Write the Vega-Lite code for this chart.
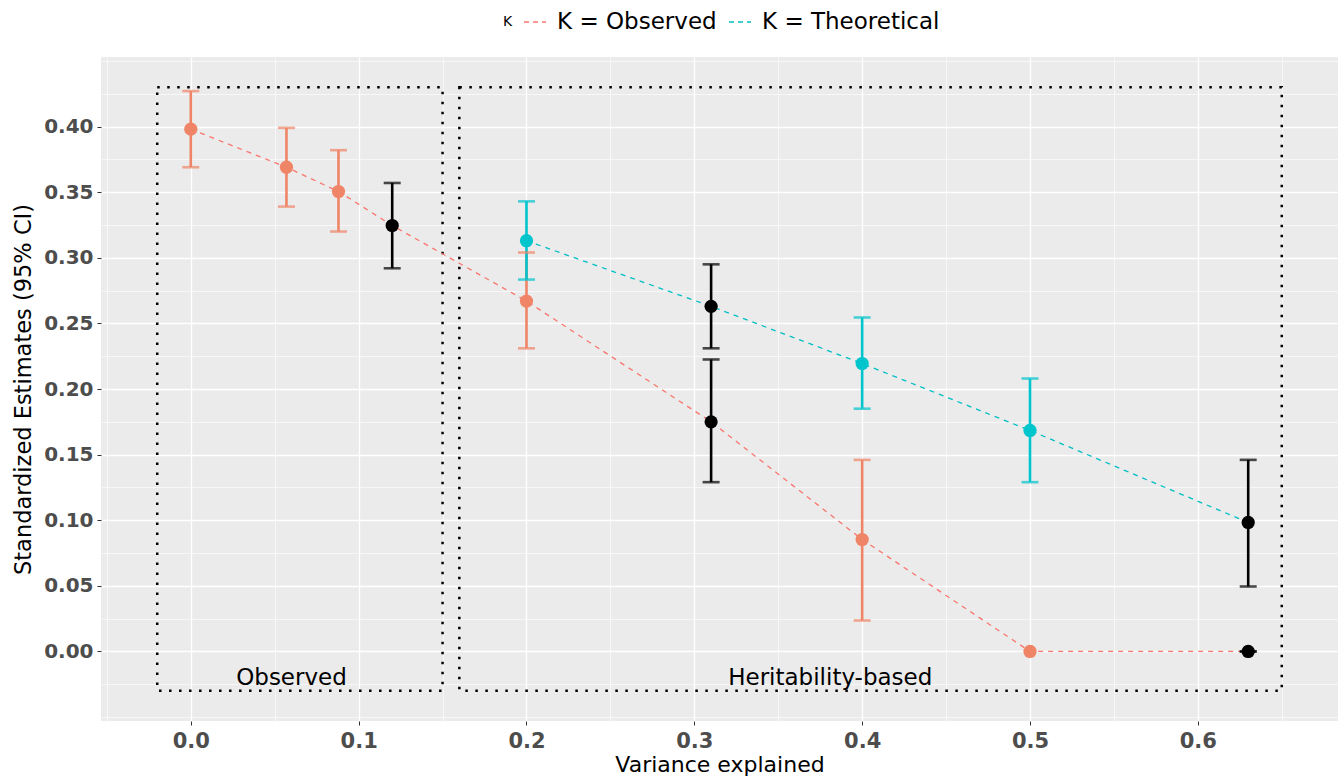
{
  "$schema": "https://vega.github.io/schema/vega-lite/v6.json",
  "autosize": {"type": "none"},
  "padding": {"left": 101, "top": 57, "right": 2, "bottom": 57},
  "width": 1237,
  "height": 664,
  "background": "white",
  "datasets": {
    "est": [
      {"x": 0.0, "est": 0.398, "lo": 0.369, "hi": 0.427, "K": "K = Observed", "pt": "Observed"},
      {"x": 0.057, "est": 0.369, "lo": 0.339, "hi": 0.399, "K": "K = Observed", "pt": "Observed"},
      {"x": 0.088, "est": 0.3505, "lo": 0.32, "hi": 0.382, "K": "K = Observed", "pt": "Observed"},
      {"x": 0.12, "est": 0.3246, "lo": 0.292, "hi": 0.357, "K": "K = Observed", "pt": "Selected"},
      {"x": 0.2, "est": 0.267, "lo": 0.231, "hi": 0.304, "K": "K = Observed", "pt": "Observed"},
      {"x": 0.2, "est": 0.313, "lo": 0.2834, "hi": 0.343, "K": "K = Theoretical", "pt": "Theoretical"},
      {"x": 0.31, "est": 0.263, "lo": 0.231, "hi": 0.295, "K": "K = Theoretical", "pt": "Selected"},
      {"x": 0.31, "est": 0.175, "lo": 0.129, "hi": 0.2225, "K": "K = Observed", "pt": "Selected"},
      {"x": 0.4, "est": 0.2194, "lo": 0.185, "hi": 0.2545, "K": "K = Theoretical", "pt": "Theoretical"},
      {"x": 0.4, "est": 0.0853, "lo": 0.0236, "hi": 0.146, "K": "K = Observed", "pt": "Observed"},
      {"x": 0.5, "est": 0.1684, "lo": 0.129, "hi": 0.208, "K": "K = Theoretical", "pt": "Theoretical"},
      {"x": 0.5, "est": 0.0, "lo": null, "hi": null, "K": "K = Observed", "pt": "Observed"},
      {"x": 0.63, "est": 0.0983, "lo": 0.0495, "hi": 0.146, "K": "K = Theoretical", "pt": "Selected"},
      {"x": 0.63, "est": 0.0, "lo": 0.0, "hi": 0.0, "K": "K = Observed", "pt": "Selected"}
    ],
    "boxes": [
      {"x1": -0.02, "x2": 0.15, "y1": -0.03, "y2": 0.43, "label": "Observed", "lx": 0.06, "ly": -0.02},
      {"x1": 0.16, "x2": 0.65, "y1": -0.03, "y2": 0.43, "label": "Heritability-based", "lx": 0.381, "ly": -0.02}
    ]
  },
  "encoding": {
    "x": {
      "type": "quantitative",
      "scale": {"domain": [-0.0535, 0.6835], "nice": false, "zero": false},
      "axis": {
        "title": "Variance explained",
        "values": [-0.05, 0, 0.05, 0.1, 0.15, 0.2, 0.25, 0.3, 0.35, 0.4, 0.45, 0.5, 0.55, 0.6, 0.65],
        "labelExpr": "(datum.value > -0.001 && datum.value < 0.601 && abs(datum.value*10 - round(datum.value*10)) < 0.001) ? format(datum.value, '.1f') : ''",
        "gridWidth": {"condition": {"test": "datum.value > -0.001 && datum.value < 0.601 && abs(datum.value*10 - round(datum.value*10)) < 0.001", "value": 1.3}, "value": 0.6},
        "tickOpacity": {"condition": {"test": "datum.value > -0.001 && datum.value < 0.601 && abs(datum.value*10 - round(datum.value*10)) < 0.001", "value": 1}, "value": 0},
        "labelPadding": 5,
        "labelFontSize": 21,
        "titleFontSize": 22,
        "titlePadding": 3
      }
    },
    "y": {
      "type": "quantitative",
      "scale": {"domain": [-0.053, 0.453], "nice": false, "zero": false},
      "axis": {
        "title": "Standardized Estimates (95% CI)",
        "values": [-0.05, -0.025, 0, 0.025, 0.05, 0.075, 0.1, 0.125, 0.15, 0.175, 0.2, 0.225, 0.25, 0.275, 0.3, 0.325, 0.35, 0.375, 0.4, 0.425, 0.45],
        "labelExpr": "(datum.value > -0.001 && datum.value < 0.401 && abs(datum.value*20 - round(datum.value*20)) < 0.001) ? format(datum.value, '.2f') : ''",
        "gridWidth": {"condition": {"test": "datum.value > -0.001 && datum.value < 0.401 && abs(datum.value*20 - round(datum.value*20)) < 0.001", "value": 1.3}, "value": 0.6},
        "tickOpacity": {"condition": {"test": "datum.value > -0.001 && datum.value < 0.401 && abs(datum.value*20 - round(datum.value*20)) < 0.001", "value": 1}, "value": 0},
        "labelPadding": 4,
        "titleFontSize": 22.5,
        "titlePadding": 8
      }
    }
  },
  "layer": [
    {
      "data": {"name": "boxes"},
      "mark": {"type": "rect", "fillOpacity": 0, "stroke": "black", "strokeWidth": 2.5, "strokeDash": [2.5, 7.5]},
      "encoding": {
        "x": {"field": "x1", "type": "quantitative"},
        "x2": {"field": "x2"},
        "y": {"field": "y1", "type": "quantitative"},
        "y2": {"field": "y2"}
      }
    },
    {
      "data": {"name": "boxes"},
      "mark": {"type": "text", "font": "DejaVu Sans", "fontSize": 23, "color": "black", "baseline": "middle", "align": "center"},
      "encoding": {
        "x": {"field": "lx", "type": "quantitative"},
        "y": {"field": "ly", "type": "quantitative"},
        "text": {"field": "label"}
      }
    },
    {
      "data": {"name": "est"},
      "mark": {"type": "line", "strokeDash": [5, 5], "strokeWidth": 1.3},
      "encoding": {
        "x": {"field": "x", "type": "quantitative"},
        "y": {"field": "est", "type": "quantitative"},
        "order": {"field": "x", "type": "quantitative"},
        "stroke": {
          "field": "K",
          "type": "nominal",
          "scale": {"domain": ["K = Observed", "K = Theoretical"], "range": ["#F8766D", "#00BFC4"]},
          "legend": {
            "title": "K",
            "orient": "none",
            "legendX": 402,
            "legendY": -47,
            "direction": "horizontal",
            "titleOrient": "left",
            "titleFont": "DejaVu Sans",
            "titleFontSize": 14,
            "titleFontWeight": "normal",
            "titleColor": "black",
            "titlePadding": 10,
            "symbolType": "stroke",
            "symbolDash": [5, 4],
            "symbolStrokeWidth": 1.3,
            "symbolSize": 484,
            "labelFont": "DejaVu Sans",
            "labelFontSize": 23,
            "labelColor": "black",
            "labelOffset": 10,
            "labelLimit": 400,
            "columnPadding": 9
          }
        }
      }
    },
    {
      "data": {"name": "est"},
      "mark": {"type": "rule", "strokeWidth": 2.6},
      "encoding": {
        "x": {"field": "x", "type": "quantitative"},
        "y": {"field": "lo", "type": "quantitative"},
        "y2": {"field": "hi"},
        "color": {"field": "pt", "type": "nominal", "scale": {"domain": ["Observed", "Theoretical", "Selected"], "range": ["#EF8466", "#00C5CD", "#000000"]}, "legend": null}
      }
    },
    {
      "data": {"name": "est"},
      "mark": {"type": "tick", "orient": "horizontal", "size": 17, "thickness": 2.6},
      "encoding": {
        "x": {"field": "x", "type": "quantitative"},
        "y": {"field": "lo", "type": "quantitative"},
        "color": {"field": "pt", "type": "nominal", "legend": null}
      }
    },
    {
      "data": {"name": "est"},
      "mark": {"type": "tick", "orient": "horizontal", "size": 17, "thickness": 2.6},
      "encoding": {
        "x": {"field": "x", "type": "quantitative"},
        "y": {"field": "hi", "type": "quantitative"},
        "color": {"field": "pt", "type": "nominal", "legend": null}
      }
    },
    {
      "data": {"name": "est"},
      "mark": {"type": "point", "filled": true, "opacity": 1, "size": 175},
      "encoding": {
        "x": {"field": "x", "type": "quantitative"},
        "y": {"field": "est", "type": "quantitative"},
        "color": {"field": "pt", "type": "nominal", "legend": null}
      }
    }
  ],
  "config": {
    "view": {"fill": "#EBEBEB", "stroke": null},
    "axis": {
      "domain": false,
      "grid": true,
      "gridColor": "#FFFFFF",
      "tickColor": "#333333",
      "tickSize": 4,
      "tickWidth": 1,
      "labelFont": "DejaVu Sans",
      "labelFontWeight": "bold",
      "labelFontSize": 20,
      "labelColor": "#4D4D4D",
      "titleFont": "DejaVu Sans",
      "titleFontWeight": "normal",
      "titleColor": "black"
    }
  }
}
